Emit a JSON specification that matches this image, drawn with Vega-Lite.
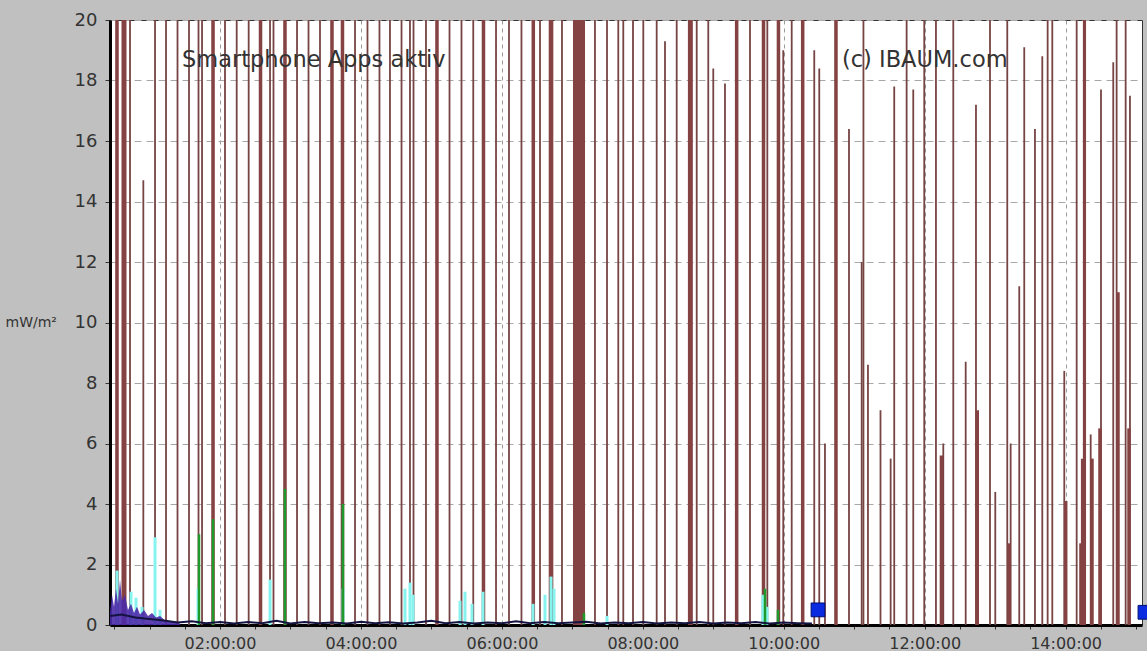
{
  "$schema": "https://vega.github.io/schema/vega-lite/v6.json",
  "width": 1032,
  "height": 605,
  "autosize": {"type": "none"},
  "padding": {"left": 110, "top": 20, "right": 5, "bottom": 26},
  "background": "#c0c0c0",
  "config": {
    "view": {"stroke": "#333333", "strokeWidth": 1, "fill": "white"},
    "axisX": {
      "labelFont": "DejaVu Sans", "labelFontSize": 16, "labelColor": "#333333",
      "labelPadding": 6, "tickSize": 4, "tickColor": "#333333",
      "domainColor": "#000000", "domainWidth": 3,
      "gridColor": "#9a9a9a", "gridDash": [4, 4], "gridWidth": 1,
      "labelOverlap": false, "labelFlush": false
    },
    "axisY": {
      "labelFont": "DejaVu Sans", "labelFontSize": 18, "labelColor": "#333333",
      "labelPadding": 8, "tickSize": 5, "tickColor": "#333333",
      "domainColor": "#000000", "domainWidth": 3,
      "gridColor": "#a8a8a8", "gridDash": [7, 5], "gridWidth": 1
    }
  },
  "datasets": {
    "spikes": [
      {"h": 0.723, "v": 20}, {"h": 0.912, "v": 14.7}, {"h": 1.078, "v": 20}, {"h": 1.234, "v": 20},
      {"h": 1.397, "v": 20}, {"h": 1.560, "v": 20}, {"h": 1.695, "v": 20}, {"h": 1.745, "v": 20},
      {"h": 2.071, "v": 20}, {"h": 2.237, "v": 20}, {"h": 2.407, "v": 20}, {"h": 2.710, "v": 20},
      {"h": 2.759, "v": 20}, {"h": 3.093, "v": 20}, {"h": 3.256, "v": 20}, {"h": 3.419, "v": 20},
      {"h": 3.916, "v": 20}, {"h": 4.093, "v": 20}, {"h": 4.263, "v": 20}, {"h": 4.412, "v": 20},
      {"h": 4.576, "v": 20}, {"h": 4.696, "v": 20}, {"h": 4.746, "v": 20}, {"h": 4.923, "v": 20},
      {"h": 5.257, "v": 20}, {"h": 5.427, "v": 20}, {"h": 5.594, "v": 20}, {"h": 5.917, "v": 20},
      {"h": 6.101, "v": 20}, {"h": 6.278, "v": 20}, {"h": 6.541, "v": 20}, {"h": 6.853, "v": 20},
      {"h": 7.321, "v": 20}, {"h": 7.492, "v": 20}, {"h": 7.652, "v": 20}, {"h": 7.723, "v": 20},
      {"h": 7.861, "v": 20}, {"h": 8.007, "v": 20}, {"h": 8.197, "v": 20}, {"h": 8.315, "v": 19.3},
      {"h": 8.481, "v": 20}, {"h": 8.765, "v": 20}, {"h": 8.929, "v": 20}, {"h": 9.000, "v": 18.4},
      {"h": 9.166, "v": 17.9}, {"h": 9.521, "v": 20}, {"h": 9.767, "v": 20}, {"h": 9.993, "v": 19.0},
      {"h": 10.113, "v": 20}, {"h": 10.433, "v": 19.0}, {"h": 10.504, "v": 18.4}, {"h": 10.585, "v": 6.0},
      {"h": 10.926, "v": 16.4}, {"h": 11.106, "v": 12.0}, {"h": 11.131, "v": 20}, {"h": 11.195, "v": 8.6},
      {"h": 11.373, "v": 7.1}, {"h": 11.517, "v": 5.5}, {"h": 11.568, "v": 17.8}, {"h": 11.744, "v": 20},
      {"h": 11.838, "v": 17.7}, {"h": 11.994, "v": 20}, {"h": 12.160, "v": 20}, {"h": 12.264, "v": 6.0},
      {"h": 12.406, "v": 20}, {"h": 12.582, "v": 8.7}, {"h": 12.728, "v": 17.2}, {"h": 12.927, "v": 20},
      {"h": 13.002, "v": 4.4}, {"h": 13.172, "v": 20}, {"h": 13.220, "v": 6.0}, {"h": 13.342, "v": 11.2},
      {"h": 13.413, "v": 19.1}, {"h": 13.565, "v": 16.4}, {"h": 13.669, "v": 18.8}, {"h": 13.745, "v": 20},
      {"h": 13.811, "v": 20}, {"h": 13.981, "v": 8.4}, {"h": 14.157, "v": 20}, {"h": 14.356, "v": 6.3},
      {"h": 14.502, "v": 17.7}, {"h": 14.676, "v": 18.6}, {"h": 14.724, "v": 20}, {"h": 14.852, "v": 20},
      {"h": 14.913, "v": 17.5}
    ],
    "bursts": [
      {"h": 0.513, "h2": 0.563, "v": 20}, {"h": 0.602, "h2": 0.673, "v": 20},
      {"h": 1.876, "h2": 1.926, "v": 20}, {"h": 2.550, "h2": 2.600, "v": 20},
      {"h": 2.897, "h2": 2.947, "v": 20}, {"h": 3.564, "h2": 3.614, "v": 20},
      {"h": 3.713, "h2": 3.763, "v": 20}, {"h": 5.054, "h2": 5.104, "v": 20},
      {"h": 5.714, "h2": 5.764, "v": 20}, {"h": 6.421, "h2": 6.471, "v": 20},
      {"h": 6.665, "h2": 6.730, "v": 20}, {"h": 7.009, "h2": 7.180, "v": 20},
      {"h": 8.640, "h2": 8.710, "v": 20}, {"h": 9.307, "h2": 9.357, "v": 20},
      {"h": 9.688, "h2": 9.738, "v": 20}, {"h": 9.900, "h2": 9.950, "v": 20},
      {"h": 10.244, "h2": 10.294, "v": 20}, {"h": 10.716, "h2": 10.766, "v": 20},
      {"h": 12.213, "h2": 12.263, "v": 5.6}, {"h": 12.721, "h2": 12.771, "v": 7.1},
      {"h": 13.171, "h2": 13.221, "v": 2.7}, {"h": 13.976, "h2": 14.026, "v": 4.1},
      {"h": 14.193, "h2": 14.243, "v": 2.7}, {"h": 14.217, "h2": 14.267, "v": 5.5},
      {"h": 14.245, "h2": 14.290, "v": 20}, {"h": 14.349, "h2": 14.399, "v": 5.5},
      {"h": 14.463, "h2": 14.513, "v": 6.5}, {"h": 14.718, "h2": 14.768, "v": 11.0},
      {"h": 14.875, "h2": 14.923, "v": 6.5}
    ],
    "cyan": [
      {"h": 0.538, "v": 1.8}, {"h": 0.737, "v": 1.1}, {"h": 0.808, "v": 0.9}, {"h": 0.893, "v": 0.6},
      {"h": 1.078, "v": 2.9}, {"h": 1.149, "v": 0.5}, {"h": 1.688, "v": 1.2}, {"h": 2.710, "v": 1.5},
      {"h": 3.745, "v": 1.2}, {"h": 4.625, "v": 1.2}, {"h": 4.696, "v": 1.4}, {"h": 4.739, "v": 1.0},
      {"h": 5.406, "v": 0.8}, {"h": 5.477, "v": 1.1}, {"h": 5.576, "v": 0.7}, {"h": 5.732, "v": 1.1},
      {"h": 6.442, "v": 0.7}, {"h": 6.612, "v": 1.0}, {"h": 6.697, "v": 1.6}, {"h": 6.740, "v": 1.2},
      {"h": 7.492, "v": 0.3}, {"h": 9.705, "v": 1.0}, {"h": 9.762, "v": 0.6}
    ],
    "green": [
      {"h": 1.702, "v": 3.0}, {"h": 1.901, "v": 3.5}, {"h": 2.922, "v": 4.5}, {"h": 3.745, "v": 4.0},
      {"h": 7.165, "v": 0.4}, {"h": 9.734, "v": 1.2}, {"h": 9.918, "v": 0.5}
    ],
    "purple": [
      {"h": 0.439, "v": 0.4}, {"h": 0.467, "v": 1.0}, {"h": 0.496, "v": 0.6}, {"h": 0.524, "v": 1.2},
      {"h": 0.553, "v": 0.7}, {"h": 0.581, "v": 1.5}, {"h": 0.609, "v": 0.8}, {"h": 0.652, "v": 1.0},
      {"h": 0.694, "v": 0.5}, {"h": 0.737, "v": 0.7}, {"h": 0.780, "v": 0.4}, {"h": 0.822, "v": 0.6},
      {"h": 0.865, "v": 0.35}, {"h": 0.922, "v": 0.5}, {"h": 0.978, "v": 0.3}, {"h": 1.035, "v": 0.4},
      {"h": 1.092, "v": 0.25}, {"h": 1.149, "v": 0.3}, {"h": 1.220, "v": 0.15}, {"h": 1.290, "v": 0.12},
      {"h": 1.432, "v": 0.05}
    ],
    "noise": [
      {"h": 0.44, "v": 0.3}, {"h": 0.6, "v": 0.35}, {"h": 0.8, "v": 0.25}, {"h": 1.0, "v": 0.2},
      {"h": 1.2, "v": 0.15}, {"h": 1.4, "v": 0.08}, {"h": 1.6, "v": 0.12}, {"h": 1.8, "v": 0.06},
      {"h": 2.0, "v": 0.1}, {"h": 2.2, "v": 0.05}, {"h": 2.4, "v": 0.1}, {"h": 2.6, "v": 0.06},
      {"h": 2.8, "v": 0.14}, {"h": 3.0, "v": 0.05}, {"h": 3.2, "v": 0.1}, {"h": 3.4, "v": 0.06},
      {"h": 3.6, "v": 0.08}, {"h": 3.8, "v": 0.05}, {"h": 4.0, "v": 0.11}, {"h": 4.2, "v": 0.06},
      {"h": 4.4, "v": 0.09}, {"h": 4.6, "v": 0.05}, {"h": 4.8, "v": 0.08}, {"h": 5.0, "v": 0.14},
      {"h": 5.2, "v": 0.06}, {"h": 5.4, "v": 0.1}, {"h": 5.6, "v": 0.05}, {"h": 5.8, "v": 0.08},
      {"h": 6.0, "v": 0.06}, {"h": 6.2, "v": 0.12}, {"h": 6.4, "v": 0.06}, {"h": 6.6, "v": 0.1},
      {"h": 6.8, "v": 0.06}, {"h": 7.0, "v": 0.08}, {"h": 7.2, "v": 0.11}, {"h": 7.4, "v": 0.05},
      {"h": 7.6, "v": 0.08}, {"h": 7.8, "v": 0.06}, {"h": 8.0, "v": 0.1}, {"h": 8.2, "v": 0.05},
      {"h": 8.4, "v": 0.08}, {"h": 8.6, "v": 0.06}, {"h": 8.8, "v": 0.1}, {"h": 9.0, "v": 0.05},
      {"h": 9.2, "v": 0.08}, {"h": 9.4, "v": 0.06}, {"h": 9.6, "v": 0.1}, {"h": 9.8, "v": 0.05},
      {"h": 10.0, "v": 0.08}, {"h": 10.2, "v": 0.06}, {"h": 10.4, "v": 0.05}
    ],
    "markers": [
      {"h": 10.486, "v": 0.5}, {"h": 15.126, "v": 0.42}
    ],
    "notes": [
      {"label": "Smartphone Apps aktiv"}
    ],
    "copyright": [
      {"label": "(c) IBAUM.com"}
    ]
  },
  "layer": [
    {
      "data": {"name": "spikes"},
      "mark": {"type": "rule", "color": "#774444", "strokeWidth": 1.8},
      "encoding": {
        "x": {"field": "h", "type": "quantitative", "scale": {"domain": [0.439, 15.084], "nice": false, "zero": false},
          "axis": {"title": null, "values": [0.5, 1, 1.5, 2, 2.5, 3, 3.5, 4, 4.5, 5, 5.5, 6, 6.5, 7, 7.5, 8, 8.5, 9, 9.5, 10, 10.5, 11, 11.5, 12, 12.5, 13, 13.5, 14, 14.5, 15], "labelExpr": "datum.value % 2 === 0 ? (datum.value < 10 ? '0' : '') + datum.value + ':00:00' : ''", "grid": true, "gridOpacity": {"condition": {"test": "datum.value % 2 === 0", "value": 1}, "value": 0}}},
        "y": {"field": "v", "type": "quantitative", "scale": {"domain": [0, 20], "nice": false},
          "axis": {"values": [0, 2, 4, 6, 8, 10, 12, 14, 16, 18, 20], "grid": true, "title": "mW/m²", "titleAngle": 0, "titleAlign": "left", "titleBaseline": "middle", "titleX": -105, "titleY": 302, "titleFont": "DejaVu Sans", "titleFontSize": 14, "titleFontWeight": "normal", "titleColor": "#333333"}},
        "y2": {"datum": 0}
      }
    },
    {
      "data": {"name": "bursts"},
      "mark": {"type": "rect", "color": "#844242"},
      "encoding": {
        "x": {"field": "h", "type": "quantitative", "scale": {"domain": [0.439, 15.084], "nice": false, "zero": false},
          "axis": {"title": null, "values": [0.5, 1, 1.5, 2, 2.5, 3, 3.5, 4, 4.5, 5, 5.5, 6, 6.5, 7, 7.5, 8, 8.5, 9, 9.5, 10, 10.5, 11, 11.5, 12, 12.5, 13, 13.5, 14, 14.5, 15], "labelExpr": "datum.value % 2 === 0 ? (datum.value < 10 ? '0' : '') + datum.value + ':00:00' : ''", "grid": true, "gridOpacity": {"condition": {"test": "datum.value % 2 === 0", "value": 1}, "value": 0}}},
        "x2": {"field": "h2"},
        "y": {"field": "v", "type": "quantitative", "scale": {"domain": [0, 20], "nice": false},
          "axis": {"values": [0, 2, 4, 6, 8, 10, 12, 14, 16, 18, 20], "grid": true, "title": "mW/m²", "titleAngle": 0, "titleAlign": "left", "titleBaseline": "middle", "titleX": -105, "titleY": 302, "titleFont": "DejaVu Sans", "titleFontSize": 14, "titleFontWeight": "normal", "titleColor": "#333333"}},
        "y2": {"datum": 0}
      }
    },
    {
      "data": {"name": "cyan"},
      "mark": {"type": "rule", "color": "#86f3ee", "strokeWidth": 3},
      "encoding": {
        "x": {"field": "h", "type": "quantitative", "scale": {"domain": [0.439, 15.084], "nice": false, "zero": false},
          "axis": {"title": null, "values": [0.5, 1, 1.5, 2, 2.5, 3, 3.5, 4, 4.5, 5, 5.5, 6, 6.5, 7, 7.5, 8, 8.5, 9, 9.5, 10, 10.5, 11, 11.5, 12, 12.5, 13, 13.5, 14, 14.5, 15], "labelExpr": "datum.value % 2 === 0 ? (datum.value < 10 ? '0' : '') + datum.value + ':00:00' : ''", "grid": true, "gridOpacity": {"condition": {"test": "datum.value % 2 === 0", "value": 1}, "value": 0}}},
        "y": {"field": "v", "type": "quantitative", "scale": {"domain": [0, 20], "nice": false},
          "axis": {"values": [0, 2, 4, 6, 8, 10, 12, 14, 16, 18, 20], "grid": true, "title": "mW/m²", "titleAngle": 0, "titleAlign": "left", "titleBaseline": "middle", "titleX": -105, "titleY": 302, "titleFont": "DejaVu Sans", "titleFontSize": 14, "titleFontWeight": "normal", "titleColor": "#333333"}},
        "y2": {"datum": 0}
      }
    },
    {
      "data": {"name": "green"},
      "mark": {"type": "rule", "color": "#1f9a2a", "strokeWidth": 2.5},
      "encoding": {
        "x": {"field": "h", "type": "quantitative", "scale": {"domain": [0.439, 15.084], "nice": false, "zero": false},
          "axis": {"title": null, "values": [0.5, 1, 1.5, 2, 2.5, 3, 3.5, 4, 4.5, 5, 5.5, 6, 6.5, 7, 7.5, 8, 8.5, 9, 9.5, 10, 10.5, 11, 11.5, 12, 12.5, 13, 13.5, 14, 14.5, 15], "labelExpr": "datum.value % 2 === 0 ? (datum.value < 10 ? '0' : '') + datum.value + ':00:00' : ''", "grid": true, "gridOpacity": {"condition": {"test": "datum.value % 2 === 0", "value": 1}, "value": 0}}},
        "y": {"field": "v", "type": "quantitative", "scale": {"domain": [0, 20], "nice": false},
          "axis": {"values": [0, 2, 4, 6, 8, 10, 12, 14, 16, 18, 20], "grid": true, "title": "mW/m²", "titleAngle": 0, "titleAlign": "left", "titleBaseline": "middle", "titleX": -105, "titleY": 302, "titleFont": "DejaVu Sans", "titleFontSize": 14, "titleFontWeight": "normal", "titleColor": "#333333"}},
        "y2": {"datum": 0}
      }
    },
    {
      "data": {"name": "purple"},
      "mark": {"type": "area", "color": "#4a2aa8", "opacity": 0.9},
      "encoding": {
        "x": {"field": "h", "type": "quantitative", "scale": {"domain": [0.439, 15.084], "nice": false, "zero": false},
          "axis": {"title": null, "values": [0.5, 1, 1.5, 2, 2.5, 3, 3.5, 4, 4.5, 5, 5.5, 6, 6.5, 7, 7.5, 8, 8.5, 9, 9.5, 10, 10.5, 11, 11.5, 12, 12.5, 13, 13.5, 14, 14.5, 15], "labelExpr": "datum.value % 2 === 0 ? (datum.value < 10 ? '0' : '') + datum.value + ':00:00' : ''", "grid": true, "gridOpacity": {"condition": {"test": "datum.value % 2 === 0", "value": 1}, "value": 0}}},
        "y": {"field": "v", "type": "quantitative", "scale": {"domain": [0, 20], "nice": false},
          "axis": {"values": [0, 2, 4, 6, 8, 10, 12, 14, 16, 18, 20], "grid": true, "title": "mW/m²", "titleAngle": 0, "titleAlign": "left", "titleBaseline": "middle", "titleX": -105, "titleY": 302, "titleFont": "DejaVu Sans", "titleFontSize": 14, "titleFontWeight": "normal", "titleColor": "#333333"}}
      }
    },
    {
      "data": {"name": "noise"},
      "mark": {"type": "line", "color": "#141440", "strokeWidth": 2},
      "encoding": {
        "x": {"field": "h", "type": "quantitative", "scale": {"domain": [0.439, 15.084], "nice": false, "zero": false},
          "axis": {"title": null, "values": [0.5, 1, 1.5, 2, 2.5, 3, 3.5, 4, 4.5, 5, 5.5, 6, 6.5, 7, 7.5, 8, 8.5, 9, 9.5, 10, 10.5, 11, 11.5, 12, 12.5, 13, 13.5, 14, 14.5, 15], "labelExpr": "datum.value % 2 === 0 ? (datum.value < 10 ? '0' : '') + datum.value + ':00:00' : ''", "grid": true, "gridOpacity": {"condition": {"test": "datum.value % 2 === 0", "value": 1}, "value": 0}}},
        "y": {"field": "v", "type": "quantitative", "scale": {"domain": [0, 20], "nice": false},
          "axis": {"values": [0, 2, 4, 6, 8, 10, 12, 14, 16, 18, 20], "grid": true, "title": "mW/m²", "titleAngle": 0, "titleAlign": "left", "titleBaseline": "middle", "titleX": -105, "titleY": 302, "titleFont": "DejaVu Sans", "titleFontSize": 14, "titleFontWeight": "normal", "titleColor": "#333333"}}
      }
    },
    {
      "data": {"name": "markers"},
      "mark": {"type": "point", "shape": "square", "filled": true, "size": 190, "color": "#0a2be0", "stroke": "#001070", "strokeWidth": 1, "opacity": 1},
      "encoding": {
        "x": {"field": "h", "type": "quantitative", "scale": {"domain": [0.439, 15.084], "nice": false, "zero": false},
          "axis": {"title": null, "values": [0.5, 1, 1.5, 2, 2.5, 3, 3.5, 4, 4.5, 5, 5.5, 6, 6.5, 7, 7.5, 8, 8.5, 9, 9.5, 10, 10.5, 11, 11.5, 12, 12.5, 13, 13.5, 14, 14.5, 15], "labelExpr": "datum.value % 2 === 0 ? (datum.value < 10 ? '0' : '') + datum.value + ':00:00' : ''", "grid": true, "gridOpacity": {"condition": {"test": "datum.value % 2 === 0", "value": 1}, "value": 0}}},
        "y": {"field": "v", "type": "quantitative", "scale": {"domain": [0, 20], "nice": false},
          "axis": {"values": [0, 2, 4, 6, 8, 10, 12, 14, 16, 18, 20], "grid": true, "title": "mW/m²", "titleAngle": 0, "titleAlign": "left", "titleBaseline": "middle", "titleX": -105, "titleY": 302, "titleFont": "DejaVu Sans", "titleFontSize": 14, "titleFontWeight": "normal", "titleColor": "#333333"}}
      }
    },
    {
      "data": {"name": "notes"},
      "mark": {"type": "text", "font": "DejaVu Sans", "fontSize": 22.5, "color": "#333333", "align": "left", "baseline": "alphabetic"},
      "encoding": {
        "x": {"datum": 1.461, "type": "quantitative", "scale": {"domain": [0.439, 15.084], "nice": false, "zero": false},
          "axis": {"title": null, "values": [0.5, 1, 1.5, 2, 2.5, 3, 3.5, 4, 4.5, 5, 5.5, 6, 6.5, 7, 7.5, 8, 8.5, 9, 9.5, 10, 10.5, 11, 11.5, 12, 12.5, 13, 13.5, 14, 14.5, 15], "labelExpr": "datum.value % 2 === 0 ? (datum.value < 10 ? '0' : '') + datum.value + ':00:00' : ''", "grid": true, "gridOpacity": {"condition": {"test": "datum.value % 2 === 0", "value": 1}, "value": 0}}},
        "y": {"datum": 18.45, "type": "quantitative", "scale": {"domain": [0, 20], "nice": false},
          "axis": {"values": [0, 2, 4, 6, 8, 10, 12, 14, 16, 18, 20], "grid": true, "title": "mW/m²", "titleAngle": 0, "titleAlign": "left", "titleBaseline": "middle", "titleX": -105, "titleY": 302, "titleFont": "DejaVu Sans", "titleFontSize": 14, "titleFontWeight": "normal", "titleColor": "#333333"}},
        "text": {"field": "label"}
      }
    },
    {
      "data": {"name": "copyright"},
      "mark": {"type": "text", "font": "DejaVu Sans", "fontSize": 22.5, "color": "#333333", "align": "left", "baseline": "alphabetic"},
      "encoding": {
        "x": {"datum": 10.826, "type": "quantitative", "scale": {"domain": [0.439, 15.084], "nice": false, "zero": false},
          "axis": {"title": null, "values": [0.5, 1, 1.5, 2, 2.5, 3, 3.5, 4, 4.5, 5, 5.5, 6, 6.5, 7, 7.5, 8, 8.5, 9, 9.5, 10, 10.5, 11, 11.5, 12, 12.5, 13, 13.5, 14, 14.5, 15], "labelExpr": "datum.value % 2 === 0 ? (datum.value < 10 ? '0' : '') + datum.value + ':00:00' : ''", "grid": true, "gridOpacity": {"condition": {"test": "datum.value % 2 === 0", "value": 1}, "value": 0}}},
        "y": {"datum": 18.45, "type": "quantitative", "scale": {"domain": [0, 20], "nice": false},
          "axis": {"values": [0, 2, 4, 6, 8, 10, 12, 14, 16, 18, 20], "grid": true, "title": "mW/m²", "titleAngle": 0, "titleAlign": "left", "titleBaseline": "middle", "titleX": -105, "titleY": 302, "titleFont": "DejaVu Sans", "titleFontSize": 14, "titleFontWeight": "normal", "titleColor": "#333333"}},
        "text": {"field": "label"}
      }
    }
  ]
}
